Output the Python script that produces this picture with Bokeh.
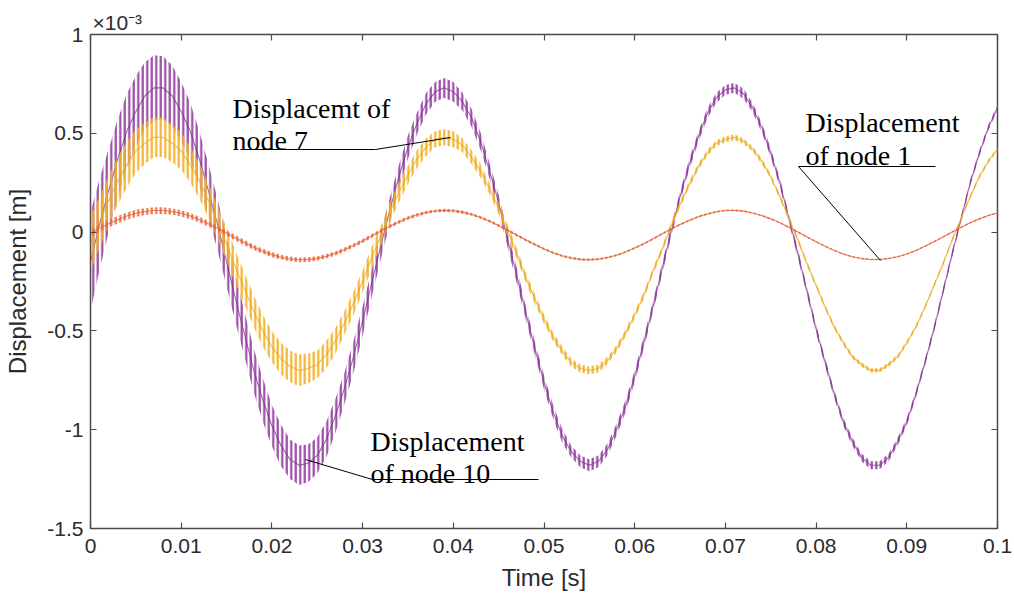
import numpy as np
from bokeh.plotting import figure
from bokeh.models import Range1d, LinearAxis, FixedTicker, Label
from bokeh.embed import file_html
from bokeh.resources import INLINE

# sample times in milliseconds (0 .. 100 ms)
time_ms = list(range(0, 101))

# displacement (x 1e-3 m), mean curve
node10_disp = [-0.15, 0.04, 0.21, 0.37, 0.51, 0.61, 0.69, 0.73, 0.73, 0.69,
               0.61, 0.51, 0.37, 0.21, 0.04, -0.15, -0.34, -0.52, -0.70, -0.85,
               -0.98, -1.08, -1.15, -1.18, -1.17, -1.13, -1.05, -0.93, -0.79, -0.63,
               -0.45, -0.26, -0.07, 0.11, 0.28, 0.43, 0.55, 0.65, 0.71, 0.73,
               0.71, 0.66, 0.58, 0.46, 0.31, 0.15, -0.04, -0.22, -0.41, -0.59,
               -0.76, -0.91, -1.03, -1.11, -1.16, -1.18, -1.16, -1.10, -1.00, -0.88,
               -0.73, -0.56, -0.38, -0.19, 0.00, 0.18, 0.34, 0.48, 0.60, 0.68,
               0.72, 0.73, 0.70, 0.63, 0.53, 0.40, 0.25, 0.07, -0.11, -0.30,
               -0.49, -0.66, -0.82, -0.96, -1.06, -1.14, -1.18, -1.18, -1.14, -1.06,
               -0.96, -0.82, -0.66, -0.49, -0.30, -0.11, 0.07, 0.25, 0.40, 0.53,
               0.63]
node7_disp = [-0.06, 0.05, 0.16, 0.26, 0.34, 0.41, 0.45, 0.48, 0.48, 0.45,
              0.41, 0.34, 0.26, 0.16, 0.05, -0.06, -0.18, -0.29, -0.40, -0.50,
              -0.58, -0.64, -0.68, -0.70, -0.69, -0.67, -0.62, -0.55, -0.46, -0.36,
              -0.25, -0.13, -0.02, 0.10, 0.20, 0.29, 0.37, 0.43, 0.47, 0.48,
              0.47, 0.44, 0.38, 0.31, 0.22, 0.12, 0.01, -0.11, -0.23, -0.34,
              -0.44, -0.53, -0.60, -0.66, -0.69, -0.70, -0.69, -0.65, -0.59, -0.51,
              -0.42, -0.32, -0.20, -0.09, 0.03, 0.14, 0.24, 0.33, 0.40, 0.45,
              0.47, 0.48, 0.46, 0.42, 0.36, 0.28, 0.18, 0.07, -0.04, -0.16,
              -0.27, -0.38, -0.48, -0.56, -0.63, -0.67, -0.70, -0.70, -0.67, -0.63,
              -0.56, -0.48, -0.38, -0.27, -0.16, -0.04, 0.07, 0.18, 0.28, 0.36,
              0.42]
node1_disp = [-0.005, 0.019, 0.042, 0.063, 0.081, 0.095, 0.104, 0.109, 0.109, 0.104,
              0.095, 0.081, 0.063, 0.042, 0.019, -0.005, -0.030, -0.054, -0.077, -0.097,
              -0.114, -0.127, -0.136, -0.140, -0.139, -0.133, -0.122, -0.108, -0.089, -0.068,
              -0.045, -0.020, 0.005, 0.029, 0.051, 0.071, 0.087, 0.099, 0.107, 0.110,
              0.108, 0.101, 0.090, 0.074, 0.055, 0.033, 0.010, -0.015, -0.040, -0.063,
              -0.085, -0.104, -0.120, -0.131, -0.138, -0.140, -0.137, -0.129, -0.117, -0.101,
              -0.081, -0.059, -0.035, -0.010, 0.015, 0.038, 0.059, 0.078, 0.092, 0.103,
              0.109, 0.110, 0.106, 0.097, 0.084, 0.067, 0.047, 0.024, 0.000, -0.025,
              -0.049, -0.072, -0.093, -0.111, -0.125, -0.134, -0.139, -0.139, -0.134, -0.125,
              -0.111, -0.093, -0.072, -0.049, -0.025, 0.000, 0.024, 0.047, 0.067, 0.084,
              0.097]

# half-amplitude of the high-frequency ripple around each curve (x 1e-3 m)
node10_ripple = [0.25, 0.23, 0.21, 0.20, 0.19, 0.18, 0.17, 0.165, 0.16, 0.155,
                 0.15, 0.145, 0.14, 0.135, 0.13, 0.125, 0.12, 0.115, 0.11, 0.11,
                 0.105, 0.105, 0.10, 0.10, 0.095, 0.09, 0.09, 0.085, 0.08, 0.08,
                 0.075, 0.07, 0.07, 0.065, 0.06, 0.06, 0.055, 0.055, 0.05, 0.05,
                 0.05, 0.045, 0.045, 0.045, 0.04, 0.04, 0.04, 0.04, 0.035, 0.035,
                 0.035, 0.035, 0.035, 0.03, 0.03, 0.03, 0.03, 0.03, 0.03, 0.03,
                 0.03, 0.03, 0.028, 0.028, 0.028, 0.027, 0.027, 0.026, 0.026, 0.025,
                 0.025, 0.025, 0.025, 0.024, 0.024, 0.024, 0.023, 0.023, 0.023, 0.022,
                 0.022, 0.022, 0.021, 0.021, 0.021, 0.02, 0.02, 0.02, 0.02, 0.02,
                 0.019, 0.019, 0.018, 0.018, 0.018, 0.017, 0.017, 0.016, 0.016, 0.015,
                 0.015]
node7_ripple = [0.14, 0.13, 0.125, 0.12, 0.115, 0.11, 0.105, 0.10, 0.10, 0.095,
                0.095, 0.09, 0.09, 0.09, 0.085, 0.085, 0.085, 0.08, 0.08, 0.08,
                0.08, 0.08, 0.08, 0.08, 0.075, 0.07, 0.07, 0.065, 0.06, 0.06,
                0.055, 0.055, 0.05, 0.05, 0.05, 0.045, 0.045, 0.045, 0.04, 0.04,
                0.04, 0.035, 0.035, 0.035, 0.03, 0.03, 0.03, 0.028, 0.026, 0.025,
                0.024, 0.023, 0.022, 0.021, 0.02, 0.02, 0.02, 0.019, 0.019, 0.018,
                0.018, 0.018, 0.017, 0.017, 0.017, 0.016, 0.016, 0.016, 0.015, 0.015,
                0.015, 0.015, 0.014, 0.014, 0.014, 0.013, 0.013, 0.013, 0.013, 0.012,
                0.012, 0.012, 0.012, 0.012, 0.011, 0.011, 0.011, 0.011, 0.011, 0.011,
                0.011, 0.01, 0.01, 0.01, 0.01, 0.01, 0.01, 0.01, 0.01, 0.01,
                0.01]
node1_ripple = [0.02, 0.02, 0.019, 0.019, 0.018, 0.018, 0.017, 0.017, 0.017, 0.016,
                0.016, 0.016, 0.015, 0.015, 0.015, 0.014, 0.014, 0.014, 0.013, 0.013,
                0.013, 0.012, 0.012, 0.012, 0.012, 0.011, 0.011, 0.011, 0.011, 0.01,
                0.01, 0.01, 0.01, 0.009, 0.009, 0.009, 0.009, 0.008, 0.008, 0.008,
                0.008, 0.008, 0.007, 0.007, 0.007, 0.007, 0.007, 0.007, 0.006, 0.006,
                0.006, 0.006, 0.006, 0.006, 0.006, 0.006, 0.005, 0.005, 0.005, 0.005,
                0.005, 0.005, 0.005, 0.005, 0.005, 0.005, 0.005, 0.005, 0.005, 0.005,
                0.004, 0.004, 0.004, 0.004, 0.004, 0.004, 0.004, 0.004, 0.004, 0.004,
                0.004, 0.004, 0.004, 0.004, 0.004, 0.004, 0.004, 0.004, 0.004, 0.004,
                0.004, 0.004, 0.004, 0.004, 0.004, 0.004, 0.004, 0.004, 0.004, 0.004,
                0.004]

x_ticks = [0, 0.01, 0.02, 0.03, 0.04, 0.05, 0.06, 0.07, 0.08, 0.09, 0.1]
x_tick_labels = ["0", "0.01", "0.02", "0.03", "0.04", "0.05", "0.06", "0.07", "0.08", "0.09", "0.1"]
y_ticks = [-1.5, -1, -0.5, 0, 0.5, 1]
y_tick_labels = ["-1.5", "-1", "-0.5", "0", "0.5", "1"]
exponent_text = "×10⁻³"

t = np.array(time_ms) / 1000.0

AX = "#4a4a4a"
TXT = "#2b2b2b"
SANS = "Liberation Sans"
SERIF = "Liberation Serif"

p = figure(width=1014, height=596, output_backend="svg", toolbar_location=None,
           x_range=Range1d(0, 0.1), y_range=Range1d(-1.5, 1.0),
           min_border_left=90, min_border_right=17, min_border_top=34, min_border_bottom=68,
           background_fill_color="white", border_fill_color="white",
           title=exponent_text)
p.title.align = "left"
p.title.offset = 2
p.title.standoff = 2
p.title.text_font = SANS
p.title.text_font_size = "21px"
p.title.text_font_style = "normal"
p.title.text_color = TXT

p.xgrid.grid_line_color = None
p.ygrid.grid_line_color = None
p.outline_line_color = AX
p.outline_line_width = 1.5


def style_axis(ax, ticks, labels, show_labels=True):
    ax.ticker = FixedTicker(ticks=ticks)
    ax.major_tick_in = 6
    ax.major_tick_out = 0
    ax.major_tick_line_color = AX
    ax.major_tick_line_width = 1.2
    ax.minor_tick_line_color = None
    ax.axis_line_color = None
    ax.major_label_text_font = SANS
    ax.major_label_text_color = TXT
    if show_labels:
        ax.major_label_overrides = {tk: lb for tk, lb in zip(ticks, labels)}
        ax.major_label_text_font_size = "21px"
    else:
        ax.major_label_overrides = {tk: "" for tk in ticks}
        ax.major_label_text_font_size = "1px"
        ax.major_label_standoff = 0


style_axis(p.xaxis[0], x_ticks, x_tick_labels)
style_axis(p.yaxis[0], y_ticks, y_tick_labels)
p.xaxis[0].major_label_standoff = 10
p.yaxis[0].major_label_standoff = 7
p.xaxis[0].axis_label = "Time [s]"
p.yaxis[0].axis_label = "Displacement [m]"
for ax in (p.xaxis[0], p.yaxis[0]):
    ax.axis_label_text_font = SANS
    ax.axis_label_text_font_size = "24px"
    ax.axis_label_text_font_style = "normal"
    ax.axis_label_text_color = TXT
p.xaxis[0].axis_label_standoff = 8
p.yaxis[0].axis_label_standoff = 13

top_ax = LinearAxis()
style_axis(top_ax, x_ticks, x_tick_labels, show_labels=False)
p.add_layout(top_ax, "above")
right_ax = LinearAxis()
style_axis(right_ax, y_ticks, y_tick_labels, show_labels=False)
p.add_layout(right_ax, "right")

series = [
    (node10_disp, node10_ripple, "#93409f", "#7a2d8a"),
    (node7_disp, node7_ripple, "#f2b127", "#e9a516"),
    (node1_disp, node1_ripple, "#ec6a3c", "#e2572a"),
]
for disp, rip, hcol, lcol in series:
    d = np.array(disp)
    r = np.array(rip)
    p.varea(x=t, y1=d - r, y2=d + r, fill_color=None, fill_alpha=0,
            hatch_pattern="|", hatch_color=hcol, hatch_scale=4.5, hatch_weight=2.2, hatch_alpha=0.95)
    p.line(t, d, line_color=lcol, line_width=1.1, line_alpha=0.7)

# callouts
callouts = [
    (0.01566, 0.6255, 0.4636, "Displacemt of", "node 7",
     [0.01654, 0.03142, 0.03969], [0.418, 0.418, 0.4787]),
    (0.07883, 0.5547, 0.3877, "Displacement", "of node 1",
     [0.09316, 0.07806, 0.0871], [0.332, 0.332, -0.1437]),
    (0.03087, -1.0597, -1.2217, "Displacement", "of node 10",
     [0.04939, 0.03109, 0.0237], [-1.252, -1.252, -1.151]),
]
for x0, y1, y2, l1, l2, lx, ly in callouts:
    for yy, s in ((y1, l1), (y2, l2)):
        p.add_layout(Label(x=x0, y=yy, text=s, text_font=SERIF, text_font_size="28px",
                           text_color="black", text_baseline="alphabetic", text_align="left"))
    p.line(lx, ly, line_color="black", line_width=1)

open("out.html", "w").write(file_html(p, INLINE))
